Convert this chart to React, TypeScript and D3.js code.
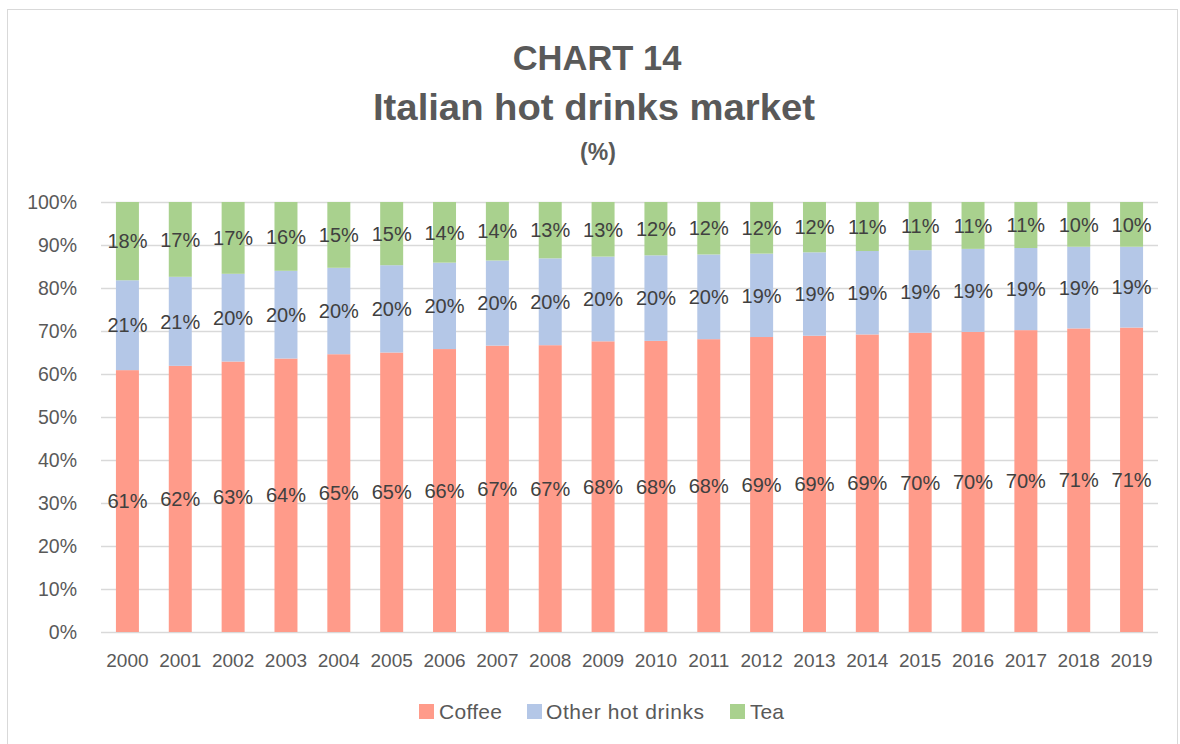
import React from "react";
import * as d3 from "d3";

const years = ["2000","2001","2002","2003","2004","2005","2006","2007","2008","2009","2010","2011","2012","2013","2014","2015","2016","2017","2018","2019"];
const coffee = [0.609,0.619,0.629,0.636,0.646,0.650,0.658,0.666,0.667,0.676,0.677,0.681,0.686,0.689,0.692,0.696,0.698,0.702,0.706,0.708];
const otherHot = [0.209,0.207,0.204,0.204,0.201,0.203,0.201,0.198,0.202,0.197,0.199,0.197,0.194,0.194,0.194,0.192,0.193,0.191,0.190,0.188];
const tea = [0.182,0.174,0.167,0.160,0.153,0.147,0.141,0.136,0.131,0.127,0.124,0.122,0.120,0.117,0.114,0.112,0.109,0.107,0.104,0.104];
const seriesNames = ["Coffee", "Other hot drinks", "Tea"];
const yTicks = [0,0.1,0.2,0.3,0.4,0.5,0.6,0.7,0.8,0.9,1];

const colors: Record<string,string> = {
  "Coffee": "#FF9B8A",
  "Other hot drinks": "#B4C7E7",
  "Tea": "#A9D18E",
};

const FONT = "'Liberation Sans', Arial, sans-serif";

export default function App() {
  const W = 1180, H = 744;
  const left = 101, right = 1158, top = 202, bottom = 632;
  const x = d3.scaleBand<string>().domain(years).range([left, right]).paddingInner(0.565).paddingOuter(0.2825);
  const y = d3.scaleLinear().domain([0, 1]).range([bottom, top]);

  const rows = years.map((yr, i) => ({ year: yr, "Coffee": coffee[i], "Other hot drinks": otherHot[i], "Tea": tea[i] }));
  const stack = d3.stack<any>().keys(seriesNames);
  const stacked = stack(rows);
  const fmt = (v: number) => Math.round(v * 100) + "%";

  const legendItems = [
    { name: "Coffee", sx: 419, tx: 439, len: 63 },
    { name: "Other hot drinks", sx: 527, tx: 546, len: 158 },
    { name: "Tea", sx: 730, tx: 750, len: 34 },
  ];

  return (
    <svg width={W} height={H} style={{ position: "absolute", left: 0, top: 0, background: "#fff" }} fontFamily={FONT}>
      <rect x={7.5} y={9.5} width={1170} height={760} fill="#fff" stroke="#d9d9d9" strokeWidth={1} />
      <text x={597} y={70} textAnchor="middle" fontSize={34.5} fontWeight="bold" fill="#595959">CHART 14</text>
      <text x={594} y={120} textAnchor="middle" fontSize={36} fontWeight="bold" fill="#595959" textLength={442} lengthAdjust="spacingAndGlyphs">Italian hot drinks market</text>
      <text x={598} y={160} textAnchor="middle" fontSize={23} fontWeight="bold" fill="#595959">(%)</text>

      {yTicks.map((t) => (
        <g key={t}>
          <line x1={left} x2={right} y1={Math.round(y(t)) + 0.5} y2={Math.round(y(t)) + 0.5} stroke="#d9d9d9" strokeWidth={1.3} />
          <text x={77} y={y(t)} dy="0.35em" textAnchor="end" fontSize={19.5} fill="#595959">{Math.round(t * 100) + "%"}</text>
        </g>
      ))}

      {stacked.map((s) => (
        <g key={s.key} fill={colors[s.key]}>
          {s.map((d, i) => (
            <rect key={i} x={x(years[i])} width={x.bandwidth()} y={y(d[1])} height={y(d[0]) - y(d[1])} />
          ))}
        </g>
      ))}

      {stacked.map((s) => (
        <g key={"l" + s.key}>
          {s.map((d, i) => (
            <text key={i} x={(x(years[i]) as number) + x.bandwidth() / 2} y={(y(d[0]) + y(d[1])) / 2} dy="0.36em" textAnchor="middle" fontSize={20} fill="#404040">
              {fmt(d[1] - d[0])}
            </text>
          ))}
        </g>
      ))}

      {years.map((yr) => (
        <text key={yr} x={(x(yr) as number) + x.bandwidth() / 2} y={667} textAnchor="middle" fontSize={19} fill="#595959">{yr}</text>
      ))}

      {legendItems.map((it) => (
        <g key={it.name}>
          <rect x={it.sx} y={704} width={15} height={15} fill={colors[it.name]} />
          <text x={it.tx} y={719} fontSize={21} fill="#595959" textLength={it.len} lengthAdjust="spacing">{it.name}</text>
        </g>
      ))}
    </svg>
  );
}
